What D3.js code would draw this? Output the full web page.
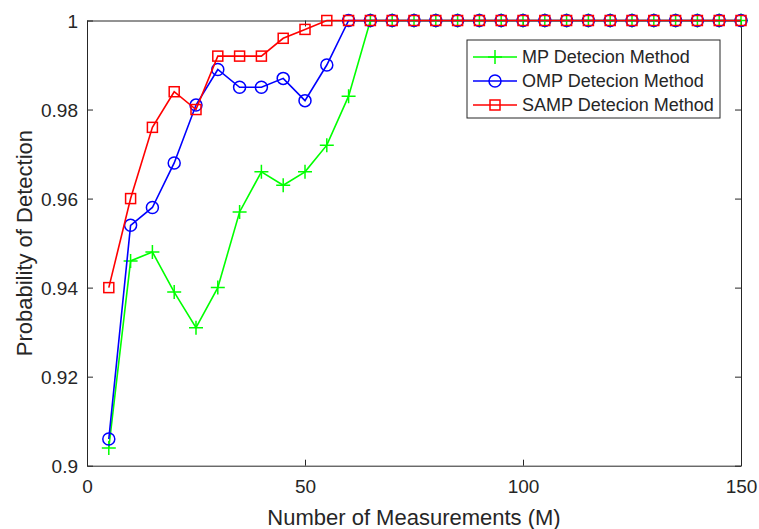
<!DOCTYPE html>
<html>
<head>
<meta charset="utf-8">
<title>Probability of Detection</title>
<style>
  body { margin: 0; background: #fff; }
  text { font-family: "Liberation Sans", Arial, sans-serif; fill: #262626; }
</style>
</head>
<body>
<script src="https://cdn.jsdelivr.net/npm/d3@7"></script>
<script>
 // measurements M
 var mValues = [5, 10, 15, 20, 25, 30, 35, 40, 45, 50, 55, 60, 65, 70, 75,
                80, 85, 90, 95, 100, 105, 110, 115, 120, 125, 130, 135, 140, 145, 150];
 var mpValues = [0.904, 0.946, 0.948, 0.939, 0.931, 0.940, 0.957, 0.966, 0.963, 0.966,
                 0.972, 0.983, 1, 1, 1, 1, 1, 1, 1, 1, 1, 1, 1, 1, 1, 1, 1, 1, 1, 1];
 var ompValues = [0.906, 0.954, 0.958, 0.968, 0.981, 0.989, 0.985, 0.985, 0.987, 0.982,
                  0.990, 1, 1, 1, 1, 1, 1, 1, 1, 1, 1, 1, 1, 1, 1, 1, 1, 1, 1, 1];
 var sampValues = [0.940, 0.960, 0.976, 0.984, 0.980, 0.992, 0.992, 0.992, 0.996, 0.998,
                   1, 1, 1, 1, 1, 1, 1, 1, 1, 1, 1, 1, 1, 1, 1, 1, 1, 1, 1, 1];
 var seriesNames = ["MP Detecion Method", "OMP Detecion Method", "SAMP Detecion Method"];
 var xTicks = [0, 50, 100, 150];
 var yTicks = [0.9, 0.92, 0.94, 0.96, 0.98, 1];

 var width = 759, height = 529;
 var plotLeft = 87, plotRight = 741, plotTop = 20.5, plotBottom = 465.7;

 var svg = d3.select("body").append("svg")
     .attr("width", width).attr("height", height);

 var x = d3.scaleLinear().domain([0, 150]).range([plotLeft, plotRight]);
 var y = d3.scaleLinear().domain([0.9, 1]).range([plotBottom, plotTop]);

 var series = [
     {name: seriesNames[0], values: mpValues, color: "#00ff00", marker: "plus"},
     {name: seriesNames[1], values: ompValues, color: "#0000ff", marker: "circle"},
     {name: seriesNames[2], values: sampValues, color: "#ff0000", marker: "square"}
 ];

 // axes (box on, ticks inside)
 var xAxis = svg.append("g").attr("transform", "translate(0," + plotBottom + ")")
     .call(d3.axisBottom(x).tickValues(xTicks).tickSizeInner(-6).tickSizeOuter(0).tickPadding(14)
           .tickFormat(d3.format("d")));
 var yAxis = svg.append("g").attr("transform", "translate(" + plotLeft + ",0)")
     .call(d3.axisLeft(y).tickValues(yTicks).tickSizeInner(-6).tickSizeOuter(0).tickPadding(9)
           .tickFormat(function(d){ return d === 1 ? "1" : d3.format(".2~f")(d); }));
 svg.append("g").attr("transform", "translate(0," + plotTop + ")")
     .call(d3.axisTop(x).tickValues(xTicks).tickSizeInner(-6).tickSizeOuter(0).tickFormat(""));
 svg.append("g").attr("transform", "translate(" + plotRight + ",0)")
     .call(d3.axisRight(y).tickValues(yTicks).tickSizeInner(-6).tickSizeOuter(0).tickFormat(""));
 svg.selectAll(".domain").attr("stroke", "#262626");
 svg.selectAll(".tick line").attr("stroke", "#262626");
 svg.selectAll(".tick text").attr("fill", "#262626")
     .style("font-family", "'Liberation Sans', Arial, sans-serif").style("font-size", "19px");
 xAxis.selectAll(".tick text").attr("dy", "0.72em");
 yAxis.selectAll(".tick text").attr("dy", "0.36em");

 // axis labels
 svg.append("text")
     .attr("x", (plotLeft + plotRight) / 2).attr("y", 525)
     .attr("text-anchor", "middle").style("font-size", "22px")
     .text("Number of Measurements (M)");
 svg.append("text")
     .attr("transform", "translate(32," + (plotTop + plotBottom) / 2 + ") rotate(-90)")
     .attr("text-anchor", "middle").style("font-size", "22px")
     .text("Probability of Detection");

 function drawMarker(g, type, cx, cy, color) {
     if (type == "plus") {
         g.append("path")
             .attr("d", "M" + (cx - 7) + "," + cy + "H" + (cx + 7) + "M" + cx + "," + (cy - 7) + "V" + (cy + 7))
             .attr("stroke", color).attr("stroke-width", 1.5).attr("fill", "none");
     } else if (type == "circle") {
         g.append("circle").attr("cx", cx).attr("cy", cy).attr("r", 6)
             .attr("stroke", color).attr("stroke-width", 1.5).attr("fill", "none");
     } else {
         g.append("rect").attr("x", cx - 5).attr("y", cy - 5).attr("width", 10).attr("height", 10)
             .attr("stroke", color).attr("stroke-width", 1.5).attr("fill", "none");
     }
 }

 var line = d3.line()
     .x(function(d){ return x(d.m); })
     .y(function(d){ return y(d.v); });

 series.forEach(function(s) {
     var pts = mValues.map(function(m, i){ return {m: m, v: s.values[i]}; });
     var g = svg.append("g");
     g.append("path").datum(pts).attr("d", line)
         .attr("fill", "none").attr("stroke", s.color).attr("stroke-width", 1.6);
     pts.forEach(function(p) {
         drawMarker(g, s.marker, x(p.m), y(p.v), s.color);
     });
 });

 // legend
 var lg = svg.append("g");
 lg.append("rect").attr("x", 467).attr("y", 40).attr("width", 253).attr("height", 78)
     .attr("fill", "#fff").attr("stroke", "#262626").attr("stroke-width", 1);
 series.forEach(function(s, i) {
     var ly = 57 + i * 24;
     lg.append("line").attr("x1", 473).attr("x2", 517).attr("y1", ly).attr("y2", ly)
         .attr("stroke", s.color).attr("stroke-width", 1.6);
     drawMarker(lg, s.marker, 495, ly, s.color);
     lg.append("text").attr("x", 522).attr("y", ly).attr("dy", "0.36em")
         .style("font-size", "18px").text(s.name);
 });
</script>
</body>
</html>
